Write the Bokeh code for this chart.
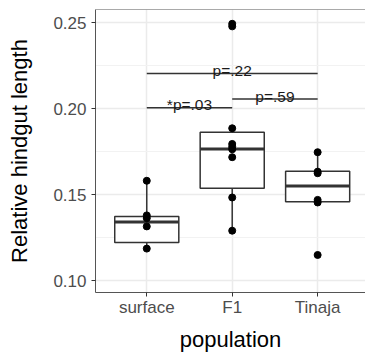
from bokeh.plotting import figure
from bokeh.models import Range1d, FixedTicker, Span
from bokeh.core.properties import value
from bokeh.embed import file_html
from bokeh.resources import INLINE

# ---- data ----
categories = ["surface", "F1", "Tinaja"]

surface_pts = [0.1581, 0.1380, 0.1364, 0.1316, 0.1187]
f1_pts = [0.2493, 0.2478, 0.1886, 0.1795, 0.1779, 0.1764, 0.1718, 0.1484, 0.1291]
tinaja_pts = [0.1747, 0.1634, 0.1625, 0.1470, 0.1455, 0.1150]

box_q1 = [0.1223, 0.1538, 0.1459]
box_median = [0.1341, 0.1766, 0.1550]
box_q3 = [0.1374, 0.1863, 0.1637]
whisker_low = [0.1187, 0.1291, 0.1455]
whisker_high = [0.1581, 0.1886, 0.1747]

ann_from = [1, 1, 2]
ann_to = [3, 2, 3]
ann_y = [0.2204, 0.2005, 0.2056]
ann_label = ["p=.22", "*p=.03", "p=.59"]

y_ticks = [0.10, 0.15, 0.20, 0.25]
y_minor = [0.125, 0.175, 0.225]

FONT = "Liberation Sans"

xpos = [i + 1 for i in range(len(categories))]

y_top = 0.2576
p = figure(width=365, height=354, output_backend="svg", toolbar_location=None,
           x_range=Range1d(0.4, 3.56), y_range=Range1d(0.0932, y_top),
           min_border_left=95, min_border_right=0, min_border_top=9, min_border_bottom=61)

p.background_fill_color = "white"
p.border_fill_color = "white"
p.outline_line_color = None

# grids
p.xgrid.ticker = FixedTicker(ticks=xpos)
p.xgrid.grid_line_color = "#EBEBEB"
p.xgrid.grid_line_width = 1.5
p.ygrid.ticker = FixedTicker(ticks=y_ticks, minor_ticks=y_minor)
p.ygrid.grid_line_color = "#EBEBEB"
p.ygrid.grid_line_width = 1.5
p.ygrid.minor_grid_line_color = "#F2F2F2"
p.ygrid.minor_grid_line_width = 1

# axes
p.xaxis.ticker = FixedTicker(ticks=xpos)
p.xaxis.major_label_overrides = {x: c for x, c in zip(xpos, categories)}
p.yaxis.ticker = FixedTicker(ticks=y_ticks, minor_ticks=y_minor)
p.yaxis.major_label_overrides = {t: f"{t:.2f}" for t in y_ticks}
for ax in (p.xaxis[0], p.yaxis[0]):
    ax.axis_line_color = "#555555"
    ax.axis_line_width = 1
    ax.major_tick_line_color = "#333333"
    ax.major_tick_in = 0
    ax.major_tick_out = 4
    ax.minor_tick_line_color = None
    ax.major_label_text_font = FONT
    ax.major_label_text_font_size = "17px"
    ax.major_label_text_color = "#4D4D4D"
    ax.axis_label_text_font = FONT
    ax.axis_label_text_font_size = "22px"
    ax.axis_label_text_font_style = "normal"
    ax.axis_label_text_color = "black"
p.xaxis.axis_label = "population"
p.yaxis.axis_label = "Relative hindgut length"
p.xaxis.major_label_standoff = 1
p.yaxis.major_label_standoff = 5
p.xaxis.axis_label_standoff = 7
p.yaxis.axis_label_standoff = 18

# top panel border
p.add_layout(Span(location=y_top, dimension="width", line_color="#555555", line_width=1))

# boxplot
p.segment(x0=xpos, x1=xpos, y0=whisker_low, y1=box_q1, line_color="#333333", line_width=1.5)
p.segment(x0=xpos, x1=xpos, y0=box_q3, y1=whisker_high, line_color="#333333", line_width=1.5)
p.vbar(x=xpos, width=0.75, bottom=box_q1, top=box_q3, fill_color="white",
       line_color="#333333", line_width=1.5)
p.segment(x0=[x - 0.375 for x in xpos], x1=[x + 0.375 for x in xpos], y0=box_median, y1=box_median,
          line_color="#333333", line_width=3)

# points
px = [1] * len(surface_pts) + [2] * len(f1_pts) + [3] * len(tinaja_pts)
py = surface_pts + f1_pts + tinaja_pts
p.scatter(x=px, y=py, size=7, fill_color="black", line_color="black")

# significance brackets
p.segment(x0=ann_from, x1=ann_to, y0=ann_y, y1=ann_y, line_color="#333333", line_width=1.5)
p.text(x=[(a + b) / 2 for a, b in zip(ann_from, ann_to)], y=ann_y, text=ann_label,
       text_font=value(FONT), text_font_size="15.5px", text_color="#1a1a1a",
       text_align="center", text_baseline="alphabetic", y_offset=-3)

open("out.html", "w").write(file_html(p, INLINE))
